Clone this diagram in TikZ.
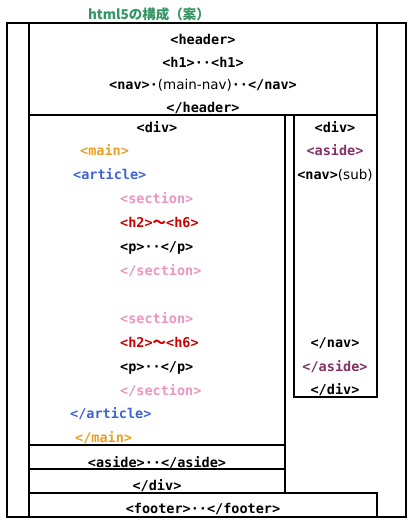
\documentclass[tikz,border=0pt]{standalone}
\usepackage{fontspec}
\setmainfont{DejaVu Sans Mono}
\newfontfamily\jpfont{Noto Sans CJK JP}
\newfontfamily\thinfont{DejaVu Sans}
\newcommand\tagfont{\bfseries\fontsize{13.5}{15}\selectfont}
\definecolor{Title}{RGB}{51, 150, 100}
\definecolor{Main}{RGB}{230, 160, 40}
\definecolor{Article}{RGB}{60, 100, 210}
\definecolor{Section}{RGB}{235, 150, 190}
\definecolor{Heading}{RGB}{204, 0, 0}
\definecolor{Aside}{RGB}{130, 50, 100}

\begin{document}
\begin{tikzpicture}[x=1pt,y=-1pt,
    frame/.style={line width=2.6pt, line cap=rect},
    rule/.style={line width=1.4pt},
    tag/.style={font=\tagfont, inner sep=0pt, text height=10pt, text depth=0pt},
    ltag/.style={tag, anchor=west}]
    \useasboundingbox (0,0) rectangle (413,525);
    % boxes
    \draw[frame] (7,23) to (406,23) to (406,517) to (7,517) to (7,23);
    \draw[frame] (29,23) to (29,517);
    \draw[frame] (377,23) to (377,397);
    \draw[frame] (29,115) to (377,115);
    \draw[frame] (285,115) to (285,493);
    \draw[frame] (294,115) to (294,397) to (377,397);
    \draw[frame] (29,493) to (377,493) to (377,517);
    \draw[rule] (29,445) to (285,445);
    \draw[rule] (29,469) to (285,469);
    % title
    \node[font=\jpfont\bfseries\fontsize{13.5}{15}\selectfont, text=Title, inner sep=0pt] (title) at (149,14) {html5の構成（案）};
    % header
    \node[tag] (header) at (203,39) {<header>};
    \node[tag] (h1) at (203,62) {<h1>··<h1>};
    \node[tag] (mainnav) at (203,84) {<nav>·{\thinfont\mdseries(main-nav)}··</nav>};
    \node[tag] (headerend) at (203,107) {</header>};
    % left div
    \node[tag] (div) at (157,127) {<div>};
    \node[ltag, text=Main] (main) at (80,150) {<main>};
    \node[ltag, text=Article] (article) at (73,174) {<article>};
    \foreach \s/\y in {1/198, 2/318}
    {
    \node[ltag, text=Section] (sec\s) at (120,\y) {<section>};
    \node[ltag, text=Heading] (hx\s) at (120,\y+24) {<h2>{\jpfont 〜}<h6>};
    \node[ltag] (p\s) at (120,\y+48) {<p>··</p>};
    \node[ltag, text=Section] (secend\s) at (120,\y+72) {</section>};
    }
    \node[ltag, text=Article] (articleend) at (70,413) {</article>};
    \node[ltag, text=Main] (mainend) at (75,437) {</main>};
    \node[tag] (aside) at (157,462) {<aside>··</aside>};
    \node[tag] (divend) at (157,485) {</div>};
    % right div
    \node[tag] (rdiv) at (335,127) {<div>};
    \node[tag, text=Aside] (raside) at (335,150) {<aside>};
    \node[tag] (subnav) at (335,174) {<nav>{\thinfont\mdseries(sub)}};
    \node[tag] (subnavend) at (335,342) {</nav>};
    \node[tag, text=Aside] (rasideend) at (335,366) {</aside>};
    \node[tag] (rdivend) at (335,389) {</div>};
    % footer
    \node[tag] (footer) at (203,508) {<footer>··</footer>};
\end{tikzpicture}
\end{document}
